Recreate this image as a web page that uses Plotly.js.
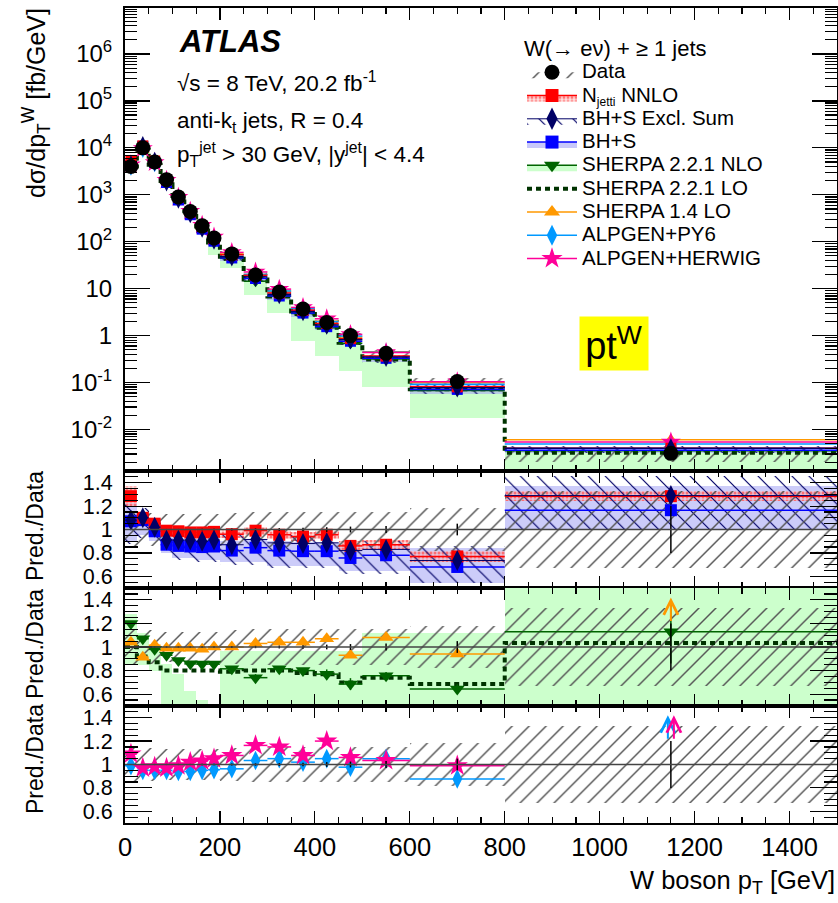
<!DOCTYPE html>
<html><head><meta charset="utf-8">
<script src="https://cdn.plot.ly/plotly-3.0.1.min.js"></script>
<style>html,body{margin:0;padding:0;background:#fff;}#plot{width:838px;height:903px;}</style>
</head><body><div id="plot"></div>
<script>
// ---------------- data ----------------
const binEdges = [0,25,50,75,100,125,150,175,200,250,300,350,400,450,500,600,800,1500];
// measured cross section [fb/GeV]
const dataXS = [4000,10000,5000,2100,900,440,218,120,55,19.5,8.5,3.7,1.9,1.0,0.42,0.105,0.0031];
// relative total uncertainty of data (hatched band)
const dataUnc = [0.15,0.14,0.14,0.13,0.13,0.13,0.13,0.13,0.14,0.15,0.15,0.15,0.15,0.15,0.15,0.18,0.33];
// relative statistical uncertainty of data
const dataStat = [0.005,0.005,0.005,0.005,0.005,0.005,0.006,0.007,0.008,0.01,0.012,0.015,0.02,0.025,0.03,0.05,0.2];

// Pred./Data ratios
const njettiR   = [1.285,1.10,1.05,0.99,0.985,0.975,0.975,0.98,0.96,0.99,0.955,0.94,0.955,0.86,0.87,0.77,1.285];
const njettiU   = [0.09,0.04,0.04,0.035,0.035,0.035,0.035,0.035,0.035,0.035,0.035,0.035,0.035,0.04,0.04,0.045,0.045];
const bhsExclR  = [1.08,1.10,1.02,0.91,0.91,0.91,0.90,0.91,0.87,0.915,0.886,0.88,0.886,0.82,0.83,0.735,1.29];
const bhsExclLo = [0.88,0.93,0.88,0.78,0.74,0.74,0.72,0.72,0.70,0.70,0.67,0.67,0.67,0.62,0.62,0.545,1.0];
const bhsExclHi = [1.25,1.18,1.08,0.97,0.96,0.96,0.95,0.96,0.96,0.98,0.95,0.95,0.95,0.90,0.90,0.857,1.46];
const bhsR      = [1.07,1.08,0.985,0.87,0.86,0.855,0.85,0.855,0.82,0.845,0.82,0.815,0.815,0.757,0.78,0.68,1.165];
const bhsLo     = [0.90,0.95,0.90,0.80,0.76,0.76,0.74,0.74,0.72,0.72,0.686,0.686,0.686,0.643,0.643,0.545,1.0];
const bhsHi     = [1.23,1.15,1.05,0.95,0.93,0.93,0.92,0.93,0.90,0.92,0.90,0.89,0.89,0.85,0.86,0.845,1.37];
const sherpaNloR  = [1.20,1.07,0.98,0.93,0.885,0.857,0.855,0.855,0.815,0.74,0.815,0.80,0.77,0.686,0.757,0.643,1.13];
const sherpaNloE  = [0.01,0.01,0.01,0.01,0.01,0.01,0.01,0.01,0.015,0.03,0.02,0.02,0.04,0.05,0.03,0.04,0.27];
// SHERPA 2.2.1 NLO band: lower edge in the main panel (relative to data)
const sherpaNloMainLo = [0.75,0.75,0.75,0.72,0.72,0.72,0.72,0.44,0.50,0.37,0.35,0.21,0.19,0.18,0.195,0.17,0.30];
// SHERPA 2.2.1 NLO band in the ratio panel
const sherpaNloBandLo = [0.85,0.85,0.80,0.40,0.40,0.40,0.40,0.40,0.40,0.40,0.40,0.40,0.40,0.40,0.40,0.40,0.30];
const sherpaNloBandHi = [1.28,1.12,1.00,0.86,0.77,0.63,0.55,0.50,0.97,0.97,0.97,0.97,0.97,0.97,1.12,1.12,1.60];
const sherpaLoR   = [1.00,0.92,0.87,0.80,0.80,0.80,0.80,0.80,0.79,0.80,0.80,0.78,0.77,0.70,0.74,0.686,1.035];
const sherpa14R   = [1.04,0.914,1.015,0.99,0.99,0.99,0.98,1.00,1.00,1.03,1.04,1.04,1.07,0.93,1.08,0.94,1.95];
const alpPy6R     = [0.99,0.95,0.95,0.95,0.94,0.94,0.95,0.955,0.963,1.034,1.05,1.02,1.05,0.977,1.05,0.877,1.58];
const alpHerR     = [1.09,0.97,0.98,0.97,0.99,1.02,1.03,1.05,1.077,1.163,1.15,1.077,1.20,1.06,1.034,0.99,1.74];

// ---------------- helpers ----------------
const centers = binEdges.slice(0,-1).map((e,i)=>(e+binEdges[i+1])/2);
const widths  = binEdges.slice(0,-1).map((e,i)=>binEdges[i+1]-e);
const halfW   = widths.map(w=>w/2);
const mul = (r)=>r.map((v,i)=>v*dataXS[i]);

const C = {
  red:'#ff0000', navy:'#000066', blue:'#0000ff',
  lav:'rgba(170,170,245,0.6)', dgreen:'#006400', lgreen:'rgb(204,255,204)',
  lo:'#003300', orange:'#ff9900', lblue:'#0099ff', mag:'#ff0099', gray:'#555555'
};

const traces = [];
function band(ax, lo, hi, color, pattern){
  const t = {type:'bar', x:centers, width:widths, base:lo, y:hi.map((h,i)=>h-lo[i]),
    xaxis:'x'+ax, yaxis:'y'+ax, showlegend:false, hoverinfo:'skip',
    marker:{color:color, line:{width:0}}};
  if(pattern) t.marker.pattern = pattern;
  traces.push(t);
}
function pts(ax, y, color, symbol, size, lw, ey){
  const t = {type:'scatter', mode:'markers', x:centers, y:y, xaxis:'x'+ax, yaxis:'y'+ax,
    showlegend:false, hoverinfo:'skip', cliponaxis:true,
    marker:{symbol:symbol, size:size, color:color, line:{width:0}},
    error_x:{type:'data', array:halfW, color:color, thickness:lw, width:0}};
  if(ey) t.error_y = {type:'data', array:ey, color:color, thickness:1.5, width:0};
  traces.push(t);
}
function step(ax, y, color){
  const yy = y.slice(); yy.push(y[y.length-1]);
  traces.push({type:'scatter', mode:'lines', x:binEdges, y:yy, xaxis:'x'+ax, yaxis:'y'+ax,
    line:{shape:'hv', color:color, width:4, dash:'5px,4px'}, showlegend:false, hoverinfo:'skip'});
}
const hatchData = {shape:'/', size:12, solidity:0.12, fgcolor:'#555555', bgcolor:'rgba(0,0,0,0)'};
const hatchNavy = {shape:'\\', size:12, solidity:0.1, fgcolor:C.navy, bgcolor:'rgba(0,0,0,0)'};
const dotPink   = {shape:'.', size:4, solidity:0.45, fgcolor:'rgba(255,90,90,0.8)', bgcolor:'rgba(255,190,190,0.5)'};
const ones = dataXS.map(()=>1);

// ---------- main panel ----------
const A1 = '';
band(A1, mul(sherpaNloMainLo), mul(sherpaNloR), C.lgreen);
band(A1, mul(bhsLo), mul(bhsHi), C.lav);
band(A1, mul(njettiR.map((v,i)=>v-njettiU[i])), mul(njettiR.map((v,i)=>v+njettiU[i])), 'rgba(0,0,0,0)', dotPink);
band(A1, mul(bhsExclLo), mul(bhsExclHi), C.navy, hatchNavy);
band(A1, dataXS.map((v,i)=>v*(1-dataUnc[i])), dataXS.map((v,i)=>v*(1+dataUnc[i])), C.gray, hatchData);
step(A1, mul(sherpaLoR), C.lo);
pts(A1, mul(sherpaNloR), C.dgreen, 'triangle-down', 12, 1.5);
pts(A1, mul(sherpa14R), C.orange, 'triangle-up', 12, 1.5);
pts(A1, mul(alpPy6R), C.lblue, 'diamond-tall', 13, 1.5);
pts(A1, mul(alpHerR), C.mag, 'star', 15, 1.5);
pts(A1, mul(bhsR), C.blue, 'square', 11, 1.5);
pts(A1, mul(njettiR), C.red, 'square', 11, 1.5);
pts(A1, mul(bhsExclR), C.navy, 'diamond-tall', 14, 1.5);
traces.push({type:'scatter', mode:'markers', x:centers, y:dataXS, xaxis:'x', yaxis:'y', showlegend:false, hoverinfo:'skip',
  marker:{symbol:'circle', size:15, color:'#000'},
  error_y:{type:'data', array:dataXS.map((v,i)=>v*dataStat[i]), color:'#000', thickness:1.5, width:0}});

// ---------- ratio panel 1 ----------
band('2', bhsLo, bhsHi, C.lav);
band('2', njettiR.map((v,i)=>v-njettiU[i]), njettiR.map((v,i)=>v+njettiU[i]), 'rgba(0,0,0,0)', dotPink);
band('2', bhsExclLo, bhsExclHi, C.navy, hatchNavy);
band('2', dataUnc.map(u=>1-u), dataUnc.map(u=>1+u), C.gray, hatchData);
pts('2', bhsR, C.blue, 'square', 12, 1.5);
pts('2', njettiR, C.red, 'square', 12, 1.5);
pts('2', bhsExclR, C.navy, 'diamond-tall', 15, 1);

// ---------- ratio panel 2 ----------
band('3', sherpaNloBandLo, sherpaNloBandHi, C.lgreen);
band('3', dataUnc.map(u=>1-u), dataUnc.map(u=>1+u), C.gray, hatchData);
step('3', sherpaLoR, C.lo);
pts('3', sherpa14R, C.orange, 'triangle-up', 13, 1.5);
pts('3', sherpaNloR, C.dgreen, 'triangle-down', 13, 1.5, sherpaNloE);

// ---------- ratio panel 3 ----------
band('4', dataUnc.map(u=>1-u), dataUnc.map(u=>1+u), C.gray, hatchData);
pts('4', alpPy6R, C.lblue, 'diamond-tall', 14, 1.5);
pts('4', alpHerR, C.mag, 'star', 16, 1.5);

// data statistical error in ratio panels
['2','3','4'].forEach(a=>traces.push({type:'scatter', mode:'markers', x:centers, y:ones, xaxis:'x'+a, yaxis:'y'+a,
  showlegend:false, hoverinfo:'skip', marker:{size:1, color:'rgba(0,0,0,0)'},
  error_y:{type:'data', array:dataStat, color:'#000', thickness:1.5, width:0}}));

// ---------- legend entries ----------
const LF = (s)=>'<span style="font-size:20.5px">'+s+'</span>';
function leg(name, o){ traces.push(Object.assign({type:'scatter', x:[null], y:[null], xaxis:'x', yaxis:'y', name:LF(name), showlegend:true, hoverinfo:'skip'}, o)); }
leg('Data', {mode:'markers', marker:{symbol:'circle', size:15, color:'#000'}, fill:'toself', fillcolor:'rgba(0,0,0,0)', fillpattern:hatchData, line:{width:0, color:'rgba(0,0,0,0)'}});
leg('N<sub><span style="font-size:12px">jetti</span></sub> NNLO', {mode:'lines+markers', marker:{symbol:'square', size:13, color:C.red}, line:{color:C.red, width:1.5}, fill:'toself', fillcolor:'rgba(255,170,170,0.7)', fillpattern:dotPink});
leg('BH+S Excl. Sum', {mode:'lines+markers', marker:{symbol:'diamond-tall', size:16, color:C.navy}, line:{color:C.navy, width:1}, fill:'toself', fillcolor:'rgba(0,0,0,0)', fillpattern:hatchNavy});
leg('BH+S', {mode:'lines+markers', marker:{symbol:'square', size:13, color:C.blue}, line:{color:C.blue, width:1.5}, fill:'toself', fillcolor:'rgb(200,200,250)'});
leg('SHERPA 2.2.1 NLO', {mode:'lines+markers', marker:{symbol:'triangle-down', size:14, color:C.dgreen}, line:{color:C.dgreen, width:1.5}, fill:'toself', fillcolor:C.lgreen});
leg('SHERPA 2.2.1 LO', {mode:'lines', line:{color:C.lo, width:4, dash:'5px,4px'}});
leg('SHERPA 1.4 LO', {mode:'lines+markers', marker:{symbol:'triangle-up', size:14, color:C.orange}, line:{color:C.orange, width:1.5}});
leg('ALPGEN+PY6', {mode:'lines+markers', marker:{symbol:'diamond-tall', size:15, color:C.lblue}, line:{color:C.lblue, width:1.5}});
leg('ALPGEN+HERWIG', {mode:'lines+markers', marker:{symbol:'star', size:16, color:C.mag}, line:{color:C.mag, width:1.5}});

// ---------------- layout ----------------
const font = 'Liberation Sans, Arial, Helvetica, sans-serif';
function xax(anchor, labels){
  return {range:[0,1500], anchor:anchor, ticks:'inside', tickmode:'linear', tick0:0, dtick:200, ticklen:12, tickwidth:1.2,
    tickcolor:'#000', showline:true, linecolor:'#000', linewidth:2, mirror:'ticks', showgrid:false, zeroline:false,
    showticklabels:labels, tickfont:{size:25.5, color:'#000'},
    minor:{ticks:'inside', dtick:50, tick0:0, ticklen:6, tickwidth:1.2, tickcolor:'#000', showgrid:false}};
}
function rax(domain, anchor){
  return {domain:domain, anchor:anchor, range:[0.5,1.5], ticks:'inside', tickmode:'linear', tick0:0, dtick:0.2, ticklen:27,
    tickwidth:1.2, tickcolor:'#000', showline:true, linecolor:'#000', linewidth:2, mirror:'ticks', showgrid:false, zeroline:false,
    tickfont:{size:21.5, color:'#000'}, ticklabelstandoff:6,
    minor:{ticks:'inside', dtick:0.05, tick0:0, ticklen:13, tickwidth:1.2, tickcolor:'#000', showgrid:false}};
}
const majorLog = [1e-2,1e-1,1,10,100,1e3,1e4,1e5,1e6];
const majorLogText = ['10<sup>-2</sup>','10<sup>-1</sup>','1','10','10<sup>2</sup>','10<sup>3</sup>','10<sup>4</sup>','10<sup>5</sup>','10<sup>6</sup>'];
const minorLog = [];
for(let e=-3;e<=6;e++){ for(let m=2;m<=9;m++){ minorLog.push(m*Math.pow(10,e)); } }

const ann = [];
const txt = (text, x, y, size, o)=>ann.push(Object.assign({text:text, xref:'paper', yref:'paper', x:x, y:y, showarrow:false,
  xanchor:'left', yanchor:'middle', font:{family:font, size:size, color:'#000'}}, o||{}));
const px = (p)=>(p-125)/712, py = (p)=>(823-p)/815;
txt('<b><i>ATLAS</i></b>', px(177), py(42), 31);
txt('√s = 8 TeV, 20.2 fb<sup>-1</sup>', px(175), py(82), 22.5);
txt('anti-k<sub>t</sub> jets, R = 0.4', px(175), py(122), 22.5);
txt('p<sub>T</sub><sup>jet</sup> > 30 GeV, |y<sup>jet</sup>| < 4.4', px(175), py(155), 22.5);
txt('pt<sup>W</sup>', px(614), py(344), 38, {xanchor:'center', bgcolor:'#ffff00', width:66, height:51});
txt('dσ/dp<sub>T</sub><sup>W</sup> [fb/GeV]', px(36), py(103), 25, {xanchor:'center', textangle:-90});
txt('Pred./Data', px(35), py(526), 23, {xanchor:'center', textangle:-90});
txt('Pred./Data', px(35), py(644), 23, {xanchor:'center', textangle:-90});
txt('Pred./Data', px(35), py(759), 23, {xanchor:'center', textangle:-90});
txt('W boson p<sub>T</sub> [GeV]', 1.0, py(882), 25.5, {xanchor:'right'});

// arrows for off-scale ratios
function arrows(ax, r, color, shift){
  r.forEach((v,i)=>{ if(v>1.5) ann.push({xref:'x'+ax, yref:'y'+ax, x:centers[i], y:1.42, ax:0, ay:25, text:'', showarrow:true,
    arrowhead:5, arrowsize:1.4, arrowwidth:2, arrowcolor:color, xshift:shift}); });
}
arrows('3', sherpa14R, C.orange, 0);
arrows('4', alpPy6R, C.lblue, -3);
arrows('4', alpHerR, C.mag, 3);

const shapes = ['2','3','4'].map(a=>({type:'line', xref:'x'+a+' domain', yref:'y'+a, x0:0, x1:1, y0:1, y1:1,
  line:{color:'#444', width:1.5}, layer:'above'}));

const layout = {
  width:838, height:903, margin:{l:125, r:1, t:8, b:80}, paper_bgcolor:'#fff', plot_bgcolor:'rgba(0,0,0,0)',
  font:{family:font, color:'#000'}, barmode:'overlay', bargap:0, showlegend:true,
  xaxis: xax('y', false), xaxis2: Object.assign(xax('y2', false), {matches:'x'}),
  xaxis3: Object.assign(xax('y3', false), {matches:'x'}), xaxis4: Object.assign(xax('y4', true), {matches:'x'}),
  yaxis: {domain:[0.4319,1], anchor:'x', type:'log', range:[-2.885,6.98], tickmode:'array', tickvals:majorLog, ticktext:majorLogText,
    ticks:'inside', ticklen:25, tickwidth:1.2, tickcolor:'#000', showline:true, linecolor:'#000', linewidth:2, mirror:'ticks',
    showgrid:false, zeroline:false, tickfont:{size:24, color:'#000'}, ticklabelstandoff:6,
    minor:{ticks:'inside', tickmode:'array', tickvals:minorLog, ticklen:12, tickwidth:1.2, tickcolor:'#000', showgrid:false}},
  yaxis2: rax([0.2883,0.4319],'x2'), yaxis3: rax([0.1436,0.2883],'x3'), yaxis4: rax([0,0.1436],'x4'),
  legend:{x:px(522), y:py(27), xanchor:'left', yanchor:'top', bgcolor:'rgba(0,0,0,0)', borderwidth:0,
    font:{family:font, size:15.6, color:'#000'}, itemwidth:50, tracegroupgap:0, traceorder:'normal',
    title:{text:'W(→ eν) + ≥ 1 jets', font:{family:font, size:22, color:'#000'}}},
  annotations: ann, shapes: shapes
};
Plotly.newPlot('plot', traces, layout, {displayModeBar:false, staticPlot:true});
</script></body></html>
